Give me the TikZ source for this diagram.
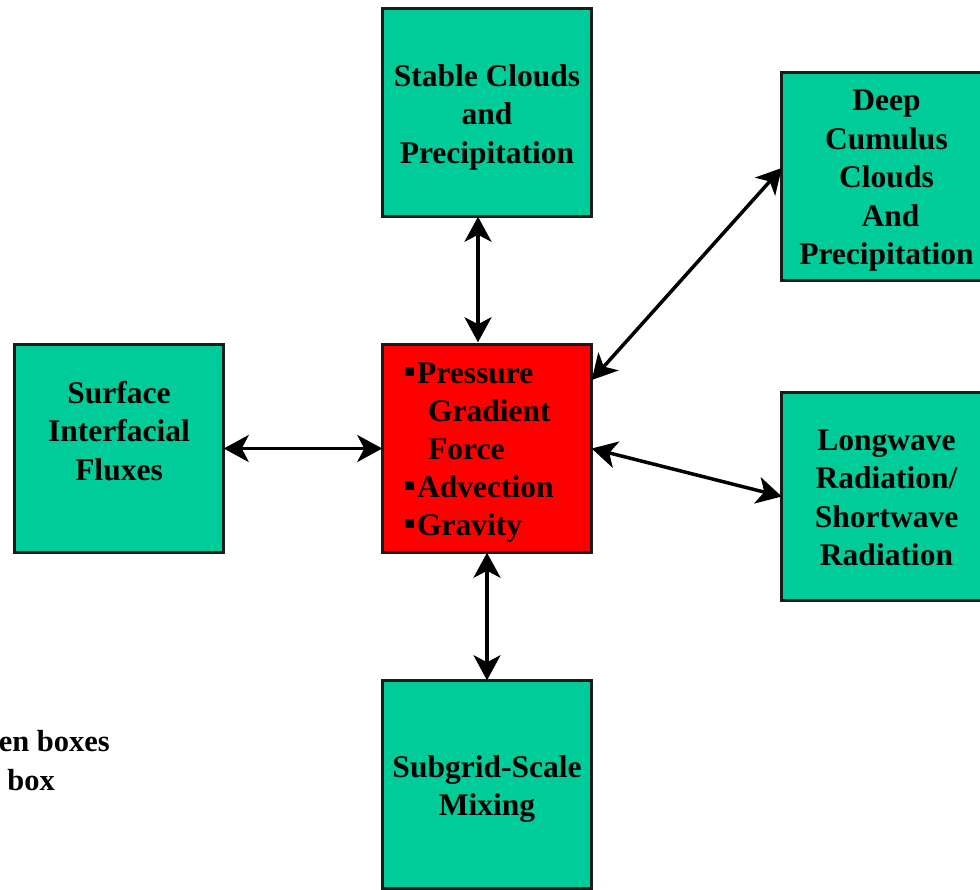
\documentclass[tikz,border=0pt]{standalone}
\usepackage{fontspec}
\setmainfont{Liberation Serif}
\usetikzlibrary{arrows.meta}
\definecolor{boxgreen}{HTML}{00CC99}
\definecolor{boxred}{HTML}{FF0000}
\definecolor{edgegray}{HTML}{1A1A1A}
\newcommand\sqbul{\rule[0.23em]{0.28em}{0.27em}\hspace{0.1em}}
\begin{document}
\begin{tikzpicture}[x=1pt,y=-1pt,
  box/.style={draw=edgegray,line width=3pt,minimum width=209.5pt,minimum height=208.5pt,inner sep=0pt,outer sep=0pt},
  gbox/.style={box,fill=boxgreen},
  rbox/.style={box,fill=boxred},
  lbl/.style={font=\bfseries\fontsize{31.5}{38.5}\selectfont,align=center,inner sep=0pt},
  rlbl/.style={font=\bfseries\fontsize{31.5}{38.5}\selectfont,inner sep=0pt,anchor=base west},
  note/.style={font=\bfseries\fontsize{30.5}{38}\selectfont,inner sep=0pt,anchor=base east},
  arr/.style={{Stealth[length=25pt,width=27pt,inset=7pt]}-{Stealth[length=25pt,width=27pt,inset=7pt]},line width=3.5pt}]
\clip (0,0) rectangle (980,889);
\fill[white] (0,0) rectangle (980,889);
% boxes
\node[gbox] (top) at (487,112.5) {};
\node[gbox] (deep) at (886.5,176.5) {};
\node[gbox] (surf) at (119,448.5) {};
\node[rbox] (red) at (487,448.5) {};
\node[gbox] (long) at (886.5,496.5) {};
\node[gbox] (bot) at (487,784.5) {};
% labels
\node[lbl] (topl) at (487,117) {Stable Clouds\\and\\Precipitation};
\node[lbl] (deepl) at (886.5,181) {Deep\\Cumulus\\Clouds\\\ And\\Precipitation};
\node[lbl] (surfl) at (119,431) {Surface\\Interfacial\\Fluxes};
\node[lbl] (longl) at (886.5,498) {Longwave\\Radiation/\\Shortwave\\Radiation};
\node[lbl] (botl) at (487,789) {Subgrid-Scale\\Mixing};
\node[rlbl] (r1) at (405,383) {\sqbul Pressure};
\node[rlbl] (r2) at (428,421) {Gradient};
\node[rlbl] (r3) at (428,459) {Force};
\node[rlbl] (r4) at (405,497) {\sqbul Advection};
\node[rlbl] (r5) at (405,535) {\sqbul Gravity};
\node[note] (n1) at (110,751.7) {en boxes};
\node[note] (n2) at (55,790) {box};
% connectors
\draw[arr] ([xshift=-9pt]top.south) -- ([xshift=-9pt,yshift=2pt]red.north);
\draw[arr] ([yshift=68.5pt]red.east) -- ([yshift=8.5pt]deep.west);
\draw[arr] (surf.east) -- (red.west);
\draw[arr] (red.east) -- (long.west);
\draw[arr] (red.south) -- (bot.north);
\end{tikzpicture}
\end{document}
